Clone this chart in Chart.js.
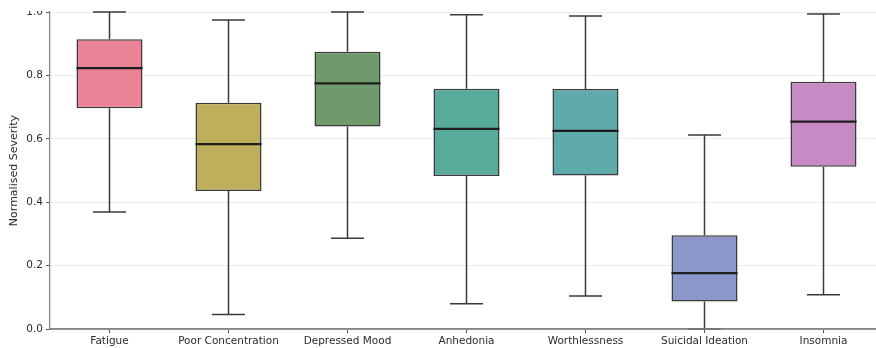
<!DOCTYPE html>
<html>
<head>
<meta charset="utf-8">
<script src="https://cdn.jsdelivr.net/npm/chart.js@4.4.1/dist/chart.umd.min.js"></script>
<style>
html,body{margin:0;padding:0;background:#fff;overflow:hidden;width:876px;height:348px;}
#wrap{position:absolute;left:0;top:11px;width:883px;height:337px;overflow:hidden;}
#c{position:absolute;left:0;top:-11px;}
</style>
</head>
<body>
<div id="wrap"><canvas id="c" width="883" height="348"></canvas></div>
<script>
const categories = ["Fatigue","Poor Concentration","Depressed Mood","Anhedonia","Worthlessness","Suicidal Ideation","Insomnia"];
const whiskerLow  = [0.369, 0.046, 0.286, 0.080, 0.104, 0.000, 0.108];
const q1Values    = [0.696, 0.435, 0.639, 0.483, 0.484, 0.087, 0.512];
const medianValues= [0.823, 0.583, 0.775, 0.631, 0.625, 0.176, 0.654];
const q3Values    = [0.914, 0.714, 0.875, 0.758, 0.757, 0.296, 0.780];
const whiskerHigh = [1.000, 0.975, 1.000, 0.991, 0.987, 0.612, 0.994];
const yTicks      = [0.0, 0.2, 0.4, 0.6, 0.8, 1.0];

const boxColors = ["#EA8395","#BDAF5B","#6F9B6C","#58AA9B","#5FAAAA","#8C98CC","#C88AC4"];
const lineColor = "#3a3a3a";

const whiskerPlugin = {
  id: 'whiskers',
  afterDatasetsDraw(chart) {
    const ctx = chart.ctx;
    const xs = chart.scales.x, ys = chart.scales.y;
    const meta = chart.getDatasetMeta(0);
    ctx.save();
    categories.forEach((c, i) => {
      const bar = meta.data[i];
      const x = xs.getPixelForValue(i);
      const w = bar.width;
      const capHalf = w / 4;
      const yLo = ys.getPixelForValue(whiskerLow[i]);
      const yQ1 = ys.getPixelForValue(q1Values[i]);
      const yQ3 = ys.getPixelForValue(q3Values[i]);
      const yHi = ys.getPixelForValue(whiskerHigh[i]);
      const yMed = ys.getPixelForValue(medianValues[i]);
      ctx.strokeStyle = lineColor;
      ctx.lineWidth = 1.5;
      ctx.beginPath();
      ctx.moveTo(x, yQ3); ctx.lineTo(x, yHi);
      ctx.moveTo(x, yQ1); ctx.lineTo(x, yLo);
      ctx.moveTo(x - capHalf, yHi); ctx.lineTo(x + capHalf, yHi);
      ctx.moveTo(x - capHalf, yLo); ctx.lineTo(x + capHalf, yLo);
      ctx.stroke();
      ctx.strokeStyle = "#1e1e1e";
      ctx.lineWidth = 2.2;
      ctx.beginPath();
      ctx.moveTo(x - w / 2, yMed); ctx.lineTo(x + w / 2, yMed);
      ctx.stroke();
    });
    // redraw bottom spine over whisker caps
    ctx.strokeStyle = "#858585";
    ctx.lineWidth = 1.3;
    ctx.beginPath();
    const yb = ys.getPixelForValue(0);
    ctx.moveTo(xs.left, yb); ctx.lineTo(xs.right, yb);
    ctx.stroke();
    ctx.restore();
  }
};

new Chart(document.getElementById('c'), {
  type: 'bar',
  data: {
    labels: categories,
    datasets: [{
      data: categories.map((c, i) => [q1Values[i], q3Values[i]]),
      backgroundColor: boxColors,
      borderColor: lineColor,
      borderWidth: 1.5,
      borderSkipped: false,
      barPercentage: 0.555,
      categoryPercentage: 1.0
    }]
  },
  options: {
    responsive: false,
    animation: false,
    events: [],
    layout: { padding: { top: 12, right: 0, left: 0, bottom: 0 } },
    plugins: { legend: { display: false }, tooltip: { enabled: false } },
    scales: {
      x: {
        offset: true,
        grid: { offset: false, drawOnChartArea: false, drawTicks: true, tickLength: 4, tickColor: "#555", tickWidth: 1 },
        border: { color: "#858585", width: 1.3 },
        ticks: { color: "#2b2b2b", font: { family: "DejaVu Sans", size: 10.5 }, padding: 2, maxRotation: 0, autoSkip: false },
        afterFit(s) { s.height = 19; }
      },
      y: {
        min: 0, max: 1,
        afterBuildTicks(s) { s.ticks = yTicks.map(v => ({ value: v })); },
        grid: { color: "#ececec", lineWidth: 1, tickLength: 4, tickColor: "#555", tickWidth: 1 },
        border: { color: "#858585", width: 1.3 },
        ticks: { color: "#2b2b2b", font: { family: "DejaVu Sans", size: 10.5 }, padding: 3, callback: v => Number(v).toFixed(1) },
        title: { display: true, text: "Normalised Severity", color: "#2b2b2b", font: { family: "DejaVu Sans", size: 11 }, padding: { top: 8, bottom: 0 } },
        afterFit(s) { s.width = 50; }
      }
    }
  },
  plugins: [whiskerPlugin]
});
</script>
</body>
</html>
